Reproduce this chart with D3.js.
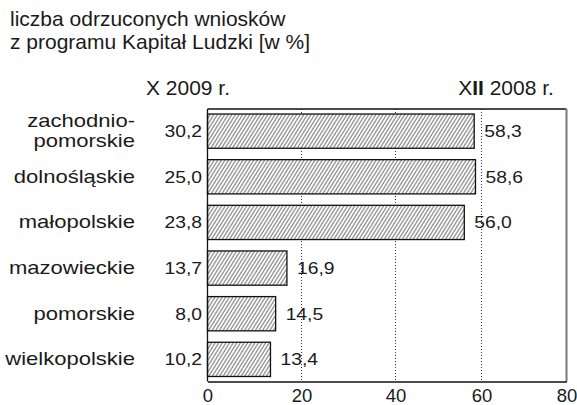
<!DOCTYPE html>
<html>
<head>
<meta charset="utf-8">
<script src="https://cdn.jsdelivr.net/npm/d3@7"></script>
<style>
  body { margin: 0; background: #fff; }
  svg { display: block; }
  text { font-family: "Liberation Sans", Arial, sans-serif; fill: #1a1a1a; }
</style>
</head>
<body>
<svg width="577" height="405"></svg>
<script>
// data
const categories = ["zachodnio-pomorskie", "dolnośląskie", "małopolskie", "mazowieckie", "pomorskie", "wielkopolskie"];
const values2009 = [30.2, 25.0, 23.8, 13.7, 8.0, 10.2];
const values2008 = [58.3, 58.6, 56.0, 16.9, 14.5, 13.4];
const xTicks = [0, 20, 40, 60, 80];
const titleLines = ["liczba odrzuconych wniosków", "z programu Kapitał Ludzki [w %]"];

const fmt = d3.formatLocale({ decimal: ",", thousands: " ", grouping: [3], currency: ["", " zł"] }).format(".1f");

const svg = d3.select("svg");
const plotLeft = 207.5, plotRight = 566.5, plotTop = 109, plotBottom = 381.5;

// the printed axis is slightly uneven, so map each tick to where it sits
let x = d3.scaleLinear().domain(xTicks).range([plotLeft, 301.5, 395.5, 481.5, plotRight]);
let y = d3.scaleBand().domain(categories).range([plotTop, plotBottom]).paddingInner(0.25).paddingOuter(0.11);

// hatch pattern
const defs = svg.append("defs");
const pat = defs.append("pattern")
  .attr("id", "hatch")
  .attr("patternUnits", "userSpaceOnUse")
  .attr("width", 3.6)
  .attr("height", 7)
  .attr("patternTransform", "skewX(-32)");
pat.append("rect").attr("width", 3.6).attr("height", 7).attr("fill", "#fff");
pat.append("line")
  .attr("x1", 1).attr("y1", 0).attr("x2", 1).attr("y2", 7)
  .attr("stroke", "#444").attr("stroke-width", 0.9);

// stretched label helper (labels in the print are wider than Arial)
function label(g, px, py, str, anchor, size, sx) {
  return g.append("text")
    .attr("transform", `translate(${px},${py}) scale(${sx},1)`)
    .attr("text-anchor", anchor)
    .style("font-size", size + "px")
    .text(str);
}

// title
titleLines.forEach((t, i) => {
  svg.append("text")
    .attr("x", 10).attr("y", 26 + i * 23)
    .style("font-size", "21px")
    .text(t);
});

// column headers
svg.append("text")
  .attr("x", 188).attr("y", 95)
  .attr("text-anchor", "middle")
  .style("font-size", "21px")
  .text("X 2009 r.");
const h2 = svg.append("text")
  .attr("x", 506).attr("y", 95)
  .attr("text-anchor", "middle")
  .style("font-size", "21px");
h2.append("tspan").text("X");
h2.append("tspan").style("font-weight", "bold").text("II");
h2.append("tspan").text(" 2008 r.");

// grid lines
svg.append("g")
  .selectAll("line")
  .data(xTicks.slice(1, -1))
  .join("line")
  .attr("x1", d => x(d)).attr("x2", d => x(d))
  .attr("y1", plotTop).attr("y2", plotBottom)
  .attr("stroke", "#333")
  .attr("stroke-width", 1)
  .attr("stroke-dasharray", "1,2");

// bars
svg.append("g")
  .selectAll("rect")
  .data(categories)
  .join("rect")
  .attr("x", x(0))
  .attr("y", d => y(d))
  .attr("width", (d, i) => x(values2008[i]) - x(0))
  .attr("height", y.bandwidth())
  .attr("fill", "url(#hatch)")
  .attr("stroke", "#111")
  .attr("stroke-width", 1.3);

// frame: top line, right border
svg.append("line")
  .attr("x1", plotLeft).attr("x2", plotRight).attr("y1", plotTop).attr("y2", plotTop)
  .attr("stroke", "#111").attr("stroke-width", 1.3);
svg.append("line")
  .attr("x1", plotRight).attr("x2", plotRight).attr("y1", plotTop).attr("y2", plotBottom)
  .attr("stroke", "#777").attr("stroke-width", 2);

// left axis
svg.append("line")
  .attr("x1", plotLeft).attr("x2", plotLeft).attr("y1", plotTop).attr("y2", plotBottom)
  .attr("stroke", "#111").attr("stroke-width", 1.3);

// bottom axis
let xAxis = d3.axisBottom(x).tickValues(xTicks).tickSize(0).tickPadding(7).tickFormat(d3.format("d"));
const ax = svg.append("g")
  .attr("transform", `translate(0,${plotBottom})`)
  .call(xAxis);
ax.select(".domain").attr("stroke", "#111").attr("stroke-width", 1.3);
ax.selectAll("text")
  .style("font-family", "'Liberation Sans', Arial, sans-serif")
  .style("font-size", "18.5px")
  .attr("fill", "#1a1a1a");

// category names
const names = svg.append("g");
categories.forEach((c, i) => {
  const cy = y(c) + y.bandwidth() / 2 + 6;
  const parts = c.includes("-") ? [c.split("-")[0] + "-", c.split("-")[1]] : [c];
  parts.forEach((p, j) => {
    label(names, 135, cy + (j - (parts.length - 1) / 2) * 20, p, "end", 18.5, 1.19);
  });
});

// X 2009 values, left of the axis
const v1 = svg.append("g");
categories.forEach((c, i) => {
  label(v1, 202, y(c) + y.bandwidth() / 2 + 6, fmt(values2009[i]), "end", 16.5, 1.17);
});

// XII 2008 values, after the bar end
const v2 = svg.append("g");
categories.forEach((c, i) => {
  label(v2, x(values2008[i]) + 10, y(c) + y.bandwidth() / 2 + 6, fmt(values2008[i]), "start", 16.5, 1.17);
});
</script>
</body>
</html>
